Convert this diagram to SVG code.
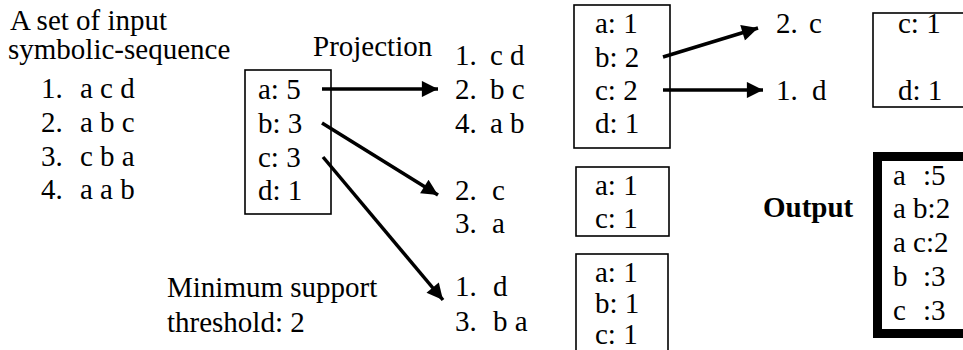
<svg xmlns="http://www.w3.org/2000/svg" width="963" height="350" viewBox="0 0 963 350">
<defs>
<style>
text{font-family:"Liberation Serif","Times New Roman",serif;font-size:29px;fill:#000}
.b{font-weight:bold}
.box{fill:none;stroke:#000;stroke-width:1.6}
.thick{fill:none;stroke:#000;stroke-width:9}
.arr{fill:none;stroke:#000;stroke-width:3.5;marker-end:url(#ah)}
</style>
<marker id="ah" viewBox="0 0 10 10" refX="10" refY="5" markerWidth="6" markerHeight="4.6" orient="auto">
<path d="M0,0 L10,5 L0,10 z" fill="#000"/>
</marker>
</defs>
<rect width="963" height="350" fill="#fff"/>
<g id="input">
<text x="10" y="30">A set of input</text>
<text x="8" y="59">symbolic-sequence</text>
<text y="98"><tspan x="41">1.</tspan><tspan x="80">a c d</tspan></text>
<text y="132"><tspan x="41">2.</tspan><tspan x="80">a b c</tspan></text>
<text y="166"><tspan x="41">3.</tspan><tspan x="80">c b a</tspan></text>
<text y="199"><tspan x="41">4.</tspan><tspan x="80">a a b</tspan></text>
</g>
<g id="projection-label"><text x="313" y="56">Projection</text></g>
<g id="count1">
<rect class="box" x="245" y="70" width="86" height="144"/>
<text x="258" y="99">a: 5</text>
<text x="258" y="133">b: 3</text>
<text x="258" y="167">c: 3</text>
<text x="258" y="200">d: 1</text>
</g>
<g id="proj-a">
<text y="65"><tspan x="455">1.</tspan><tspan x="490">c d</tspan></text>
<text y="99"><tspan x="455">2.</tspan><tspan x="490">b c</tspan></text>
<text y="133"><tspan x="455">4.</tspan><tspan x="490">a b</tspan></text>
</g>
<g id="proj-b">
<text y="200"><tspan x="455">2.</tspan><tspan x="492">c</tspan></text>
<text y="233"><tspan x="455">3.</tspan><tspan x="492">a</tspan></text>
</g>
<g id="proj-c">
<text y="296"><tspan x="455">1.</tspan><tspan x="493">d</tspan></text>
<text y="331"><tspan x="455">3.</tspan><tspan x="493">b a</tspan></text>
</g>
<g id="threshold">
<text x="167" y="297">Minimum support</text>
<text x="167" y="332">threshold: 2</text>
</g>
<g id="count-a">
<rect class="box" x="574" y="5" width="96" height="143"/>
<text x="595" y="33">a: 1</text>
<text x="595" y="67">b: 2</text>
<text x="595" y="100">c: 2</text>
<text x="595" y="133">d: 1</text>
</g>
<g id="count-b">
<rect class="box" x="576" y="167" width="93" height="69"/>
<text x="595" y="195">a: 1</text>
<text x="595" y="228">c: 1</text>
</g>
<g id="count-c">
<rect class="box" x="576" y="254" width="92" height="110"/>
<text x="595" y="282">a: 1</text>
<text x="595" y="313">b: 1</text>
<text x="595" y="344">c: 1</text>
</g>
<g id="proj-ab">
<text y="33"><tspan x="776">2.</tspan><tspan x="809">c</tspan></text>
<text y="100"><tspan x="776">1.</tspan><tspan x="812">d</tspan></text>
</g>
<g id="count-ab">
<rect class="box" x="873" y="13" width="110" height="94"/>
<text x="898" y="33">c: 1</text>
<text x="898" y="100">d: 1</text>
</g>
<g id="output">
<text class="b" x="763" y="217">Output</text>
<rect class="thick" x="877.5" y="156.5" width="120" height="177"/>
<text y="185"><tspan x="893">a</tspan><tspan x="923">:5</tspan></text>
<text x="893" y="218">a b:2</text>
<text x="893" y="252">a c:2</text>
<text y="286"><tspan x="893">b</tspan><tspan x="923">:3</tspan></text>
<text y="320"><tspan x="893">c</tspan><tspan x="923">:3</tspan></text>
</g>
<g id="connectors">
<line class="arr" x1="322" y1="89" x2="438" y2="89"/>
<line class="arr" x1="322" y1="123" x2="438" y2="195"/>
<line class="arr" x1="323" y1="157" x2="443" y2="300"/>
<line class="arr" x1="663" y1="57" x2="758" y2="28"/>
<line class="arr" x1="663" y1="90" x2="763" y2="90"/>
</g>
</svg>
